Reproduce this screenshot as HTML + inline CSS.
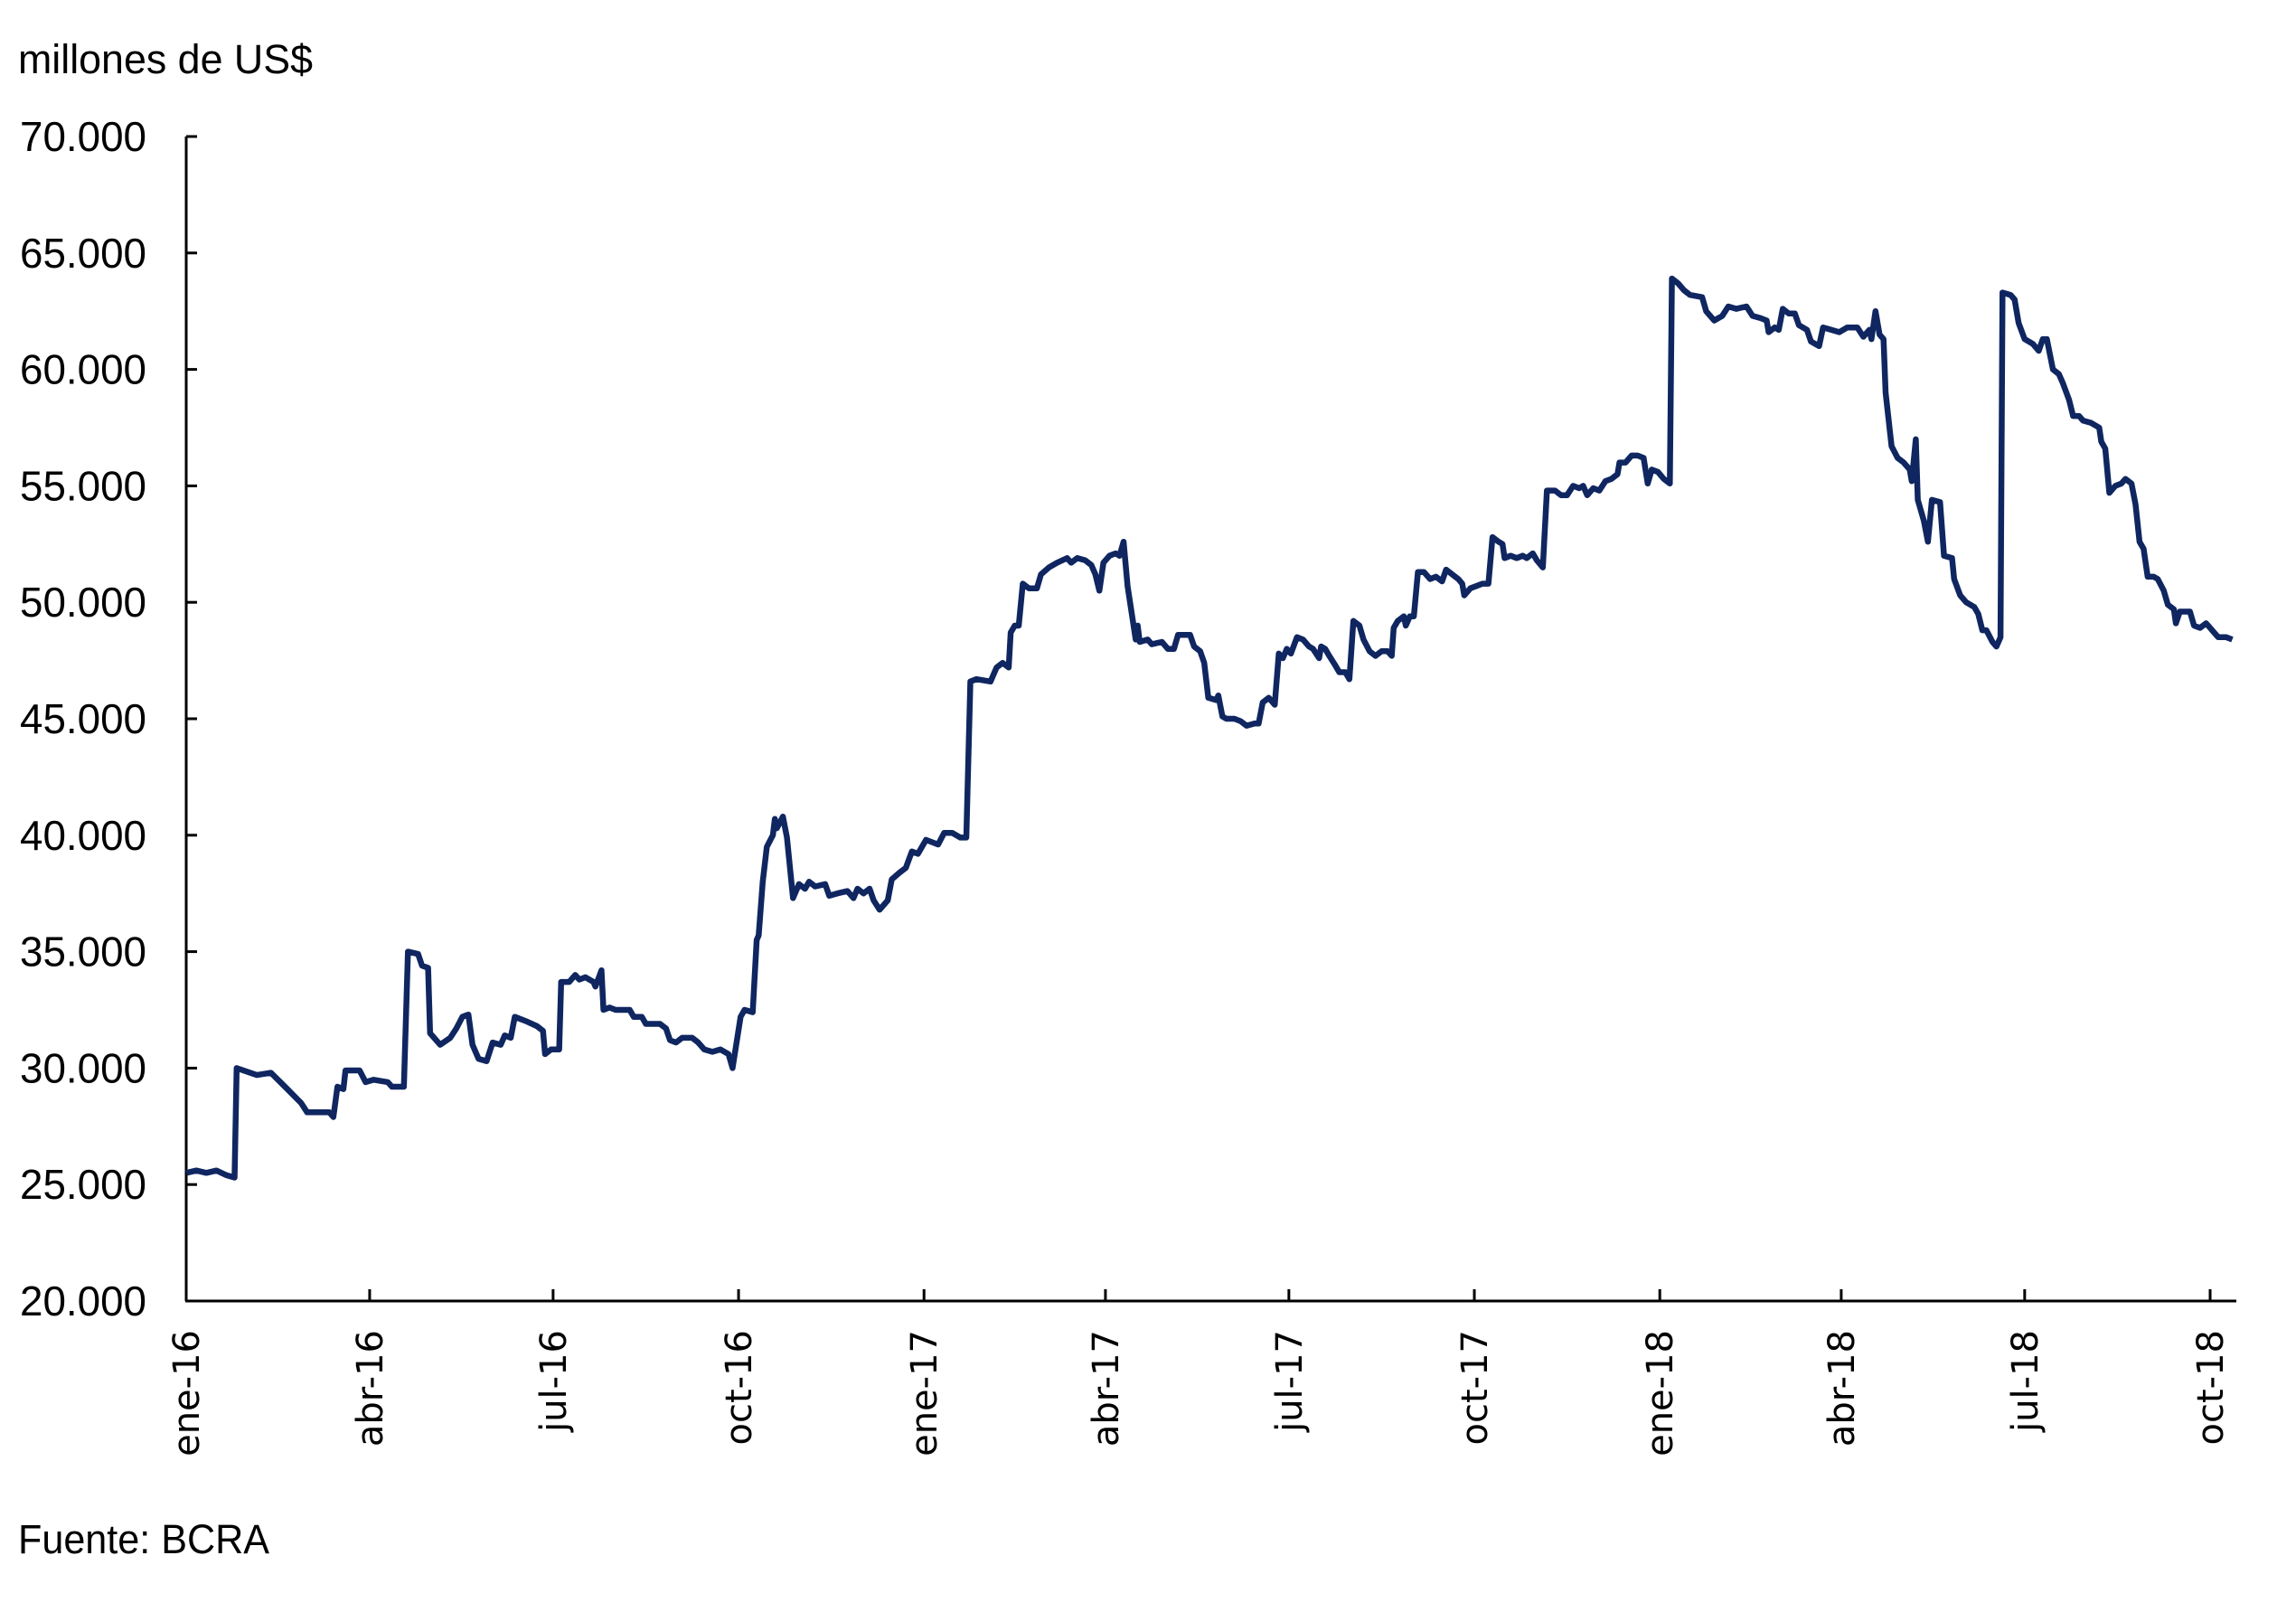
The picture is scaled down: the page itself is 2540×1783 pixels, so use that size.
<!DOCTYPE html>
<html><head><meta charset="utf-8"><style>
html,body{margin:0;padding:0;background:#fff;}
svg{display:block;}
</style></head><body>
<svg id="chart" width="2540" height="1783" viewBox="0 0 2540 1783" xmlns="http://www.w3.org/2000/svg">
<text x="20" y="81" font-family="Liberation Sans, sans-serif" font-size="45" textLength="326" lengthAdjust="spacingAndGlyphs">millones de US$</text>
<text x="20" y="1718" font-family="Liberation Sans, sans-serif" font-size="45" textLength="278" lengthAdjust="spacingAndGlyphs">Fuente: BCRA</text>
<g id="axes"></g>
<path id="series" fill="none" stroke="#0f2660" stroke-width="6.5" stroke-linejoin="round"/>
</svg>
<script>
const days = [0,5,10,15,20,24,25,35,42,49,57,60,71,73,75,78,79,86,89,93,100,102,108,110,115,117,120,121,126,131,134,137,140,142,145,149,152,156,158,161,163,169,174,177,178,181,185,186,190,193,195,198,202,203,206,207,210,213,220,222,226,228,235,238,240,243,246,251,254,257,261,265,269,271,275,277,281,283,284,286,288,291,292,293,296,298,301,304,307,309,312,317,319,323,328,331,333,336,339,341,344,348,350,354,357,360,363,367,370,373,376,380,384,387,389,392,399,402,405,408,409,411,413,415,418,422,424,428,432,437,439,442,446,449,451,453,455,458,461,463,465,467,471,472,473,477,479,484,487,490,492,498,500,503,505,507,511,512,514,516,520,523,526,530,532,534,537,540,542,544,546,548,551,554,557,559,562,563,565,567,570,572,575,577,579,582,584,587,590,593,596,598,599,601,604,605,607,609,611,614,617,620,623,625,628,631,633,634,637,640,643,646,648,651,653,654,657,660,663,665,668,670,673,675,679,682,685,688,691,693,695,698,701,704,707,710,711,714,717,720,723,725,727,730,733,736,737,740,743,746,752,754,758,762,765,769,774,777,781,784,785,788,790,792,795,798,800,804,806,810,812,816,820,824,829,832,835,836,838,840,842,843,846,849,852,855,856,858,859,862,864,866,870,872,876,877,880,883,887,889,891,893,896,898,900,901,905,907,909,912,916,919,921,923,926,929,931,934,936,939,941,945,949,950,952,954,957,960,962,965,967,969,971,973,976,978,981,983,986,987,989,994,996,999,1002,1004,1005,1008,1012,1015];
const reserves = [25500,25600,25500,25600,25400,25300,30000,29700,29800,29200,28500,28100,28100,27900,29200,29100,29900,29900,29400,29500,29400,29200,29200,35000,34900,34400,34300,31500,31000,31300,31700,32200,32300,31000,30400,30300,31100,31000,31400,31300,32200,32000,31800,31600,30600,30800,30800,33700,33700,34000,33800,33900,33700,33500,34200,32500,32600,32500,32500,32200,32200,31900,31900,31700,31200,31100,31300,31300,31100,30800,30700,30800,30600,30000,32200,32500,32400,35500,35700,38000,39500,40000,40700,40300,40800,39900,37300,37900,37700,38000,37800,37900,37400,37500,37600,37300,37700,37500,37700,37200,36800,37200,38100,38400,38600,39300,39200,39800,39700,39600,40100,40100,39900,39900,46600,46700,46600,47200,47400,47200,48700,49000,49000,50800,50600,50600,51200,51500,51700,51900,51700,51900,51800,51600,51200,50500,51700,52000,52100,52000,52600,50700,48400,49000,48300,48400,48200,48300,48000,48000,48600,48600,48100,47900,47400,45900,45800,46000,45100,45000,45000,44900,44700,44800,44800,45700,45900,45600,47800,47600,48000,47800,48500,48400,48100,48000,47600,48100,48000,47700,47300,47000,47000,46700,49200,49000,48400,47900,47700,47900,47900,47700,48900,49200,49400,49000,49400,49400,51300,51300,51000,51100,50900,51400,51200,51000,50800,50300,50600,50700,50800,50800,52800,52600,52500,51900,52000,51900,52000,51900,52100,51800,51500,54800,54800,54600,54600,55000,54900,55000,54600,54900,54800,55200,55300,55500,56000,56000,56300,56300,56200,55100,55700,55600,55300,55100,63900,63700,63400,63200,63100,62500,62100,62300,62700,62600,62700,62300,62200,62100,61600,61800,61700,62600,62400,62400,61900,61700,61200,61000,61800,61700,61600,61800,61800,61400,61700,61300,62500,61500,61300,59000,56700,56200,56000,55700,55200,57000,54400,53500,52600,54400,54300,52000,51900,51000,50300,50000,49800,49500,48800,48800,48300,48100,48500,63300,63200,63000,62000,61300,61100,60800,61300,61300,60000,59800,59400,58700,58000,58000,57800,57700,57500,56900,56600,54700,55000,55100,55300,55100,54200,52600,52300,51100,51100,51000,50500,49900,49700,49100,49600,49600,49000,48900,49100,48900,48800,48500,48500,48400];
const yTicks = [20000,25000,30000,35000,40000,45000,50000,55000,60000,65000,70000];
const yTickLabels = ["20.000","25.000","30.000","35.000","40.000","45.000","50.000","55.000","60.000","65.000","70.000"];
const xTickDays = [0,91,182,274,366,456,547,639,731,821,912,1004];
const xTickLabels = ["ene-16","abr-16","jul-16","oct-16","ene-17","abr-17","jul-17","oct-17","ene-18","abr-18","jul-18","oct-18"];

const X0=206, X1=2445, D1=1004, Y0=1439, Y1=151, V0=20000, V1=70000;
function xs(d){return X0+(d/D1)*(X1-X0);}
function ys(v){return Y0-(v-V0)/(V1-V0)*(Y0-Y1);}
const NS="http://www.w3.org/2000/svg";
const ax=document.getElementById('axes');
function mk(tag,attrs,parent){const e=document.createElementNS(NS,tag);for(const k in attrs)e.setAttribute(k,attrs[k]);(parent||ax).appendChild(e);return e;}
let e=mk('line',{x1:X0,y1:Y1,x2:X0,y2:Y0,stroke:'#000','stroke-width':3});


e=mk('line',{x1:X0-1,y1:Y0,x2:2474,y2:Y0,stroke:'#000','stroke-width':3});


yTicks.forEach((v,i)=>{
  const y=ys(v);
  let t=mk('line',{x1:X0,y1:y,x2:X0+12,y2:y,stroke:'#000','stroke-width':3});
  
  
  let l=mk('text',{x:162,y:y+16,'text-anchor':'end','font-family':'Liberation Sans, sans-serif','font-size':46,textLength:140,lengthAdjust:'spacingAndGlyphs'});
  l.textContent=yTickLabels[i];
  
  
});
xTickDays.forEach((d,i)=>{
  const x=xs(d);
  let t=mk('line',{x1:x,y1:Y0,x2:x,y2:Y0-13,stroke:'#000','stroke-width':3});
  
  
  let l=mk('text',{x:0,y:0,'text-anchor':'end','font-family':'DejaVu Sans, sans-serif','font-size':40,transform:'translate('+(x+14)+','+(Y0+32)+') rotate(-90)'});
  l.textContent=xTickLabels[i];
  
  
});
let dstr='';
days.forEach((d,i)=>{dstr+=(i?'L':'M')+xs(d).toFixed(1)+','+ys(reserves[i]).toFixed(1);});
document.getElementById('series').setAttribute('d',dstr);
</script>
</body></html>
